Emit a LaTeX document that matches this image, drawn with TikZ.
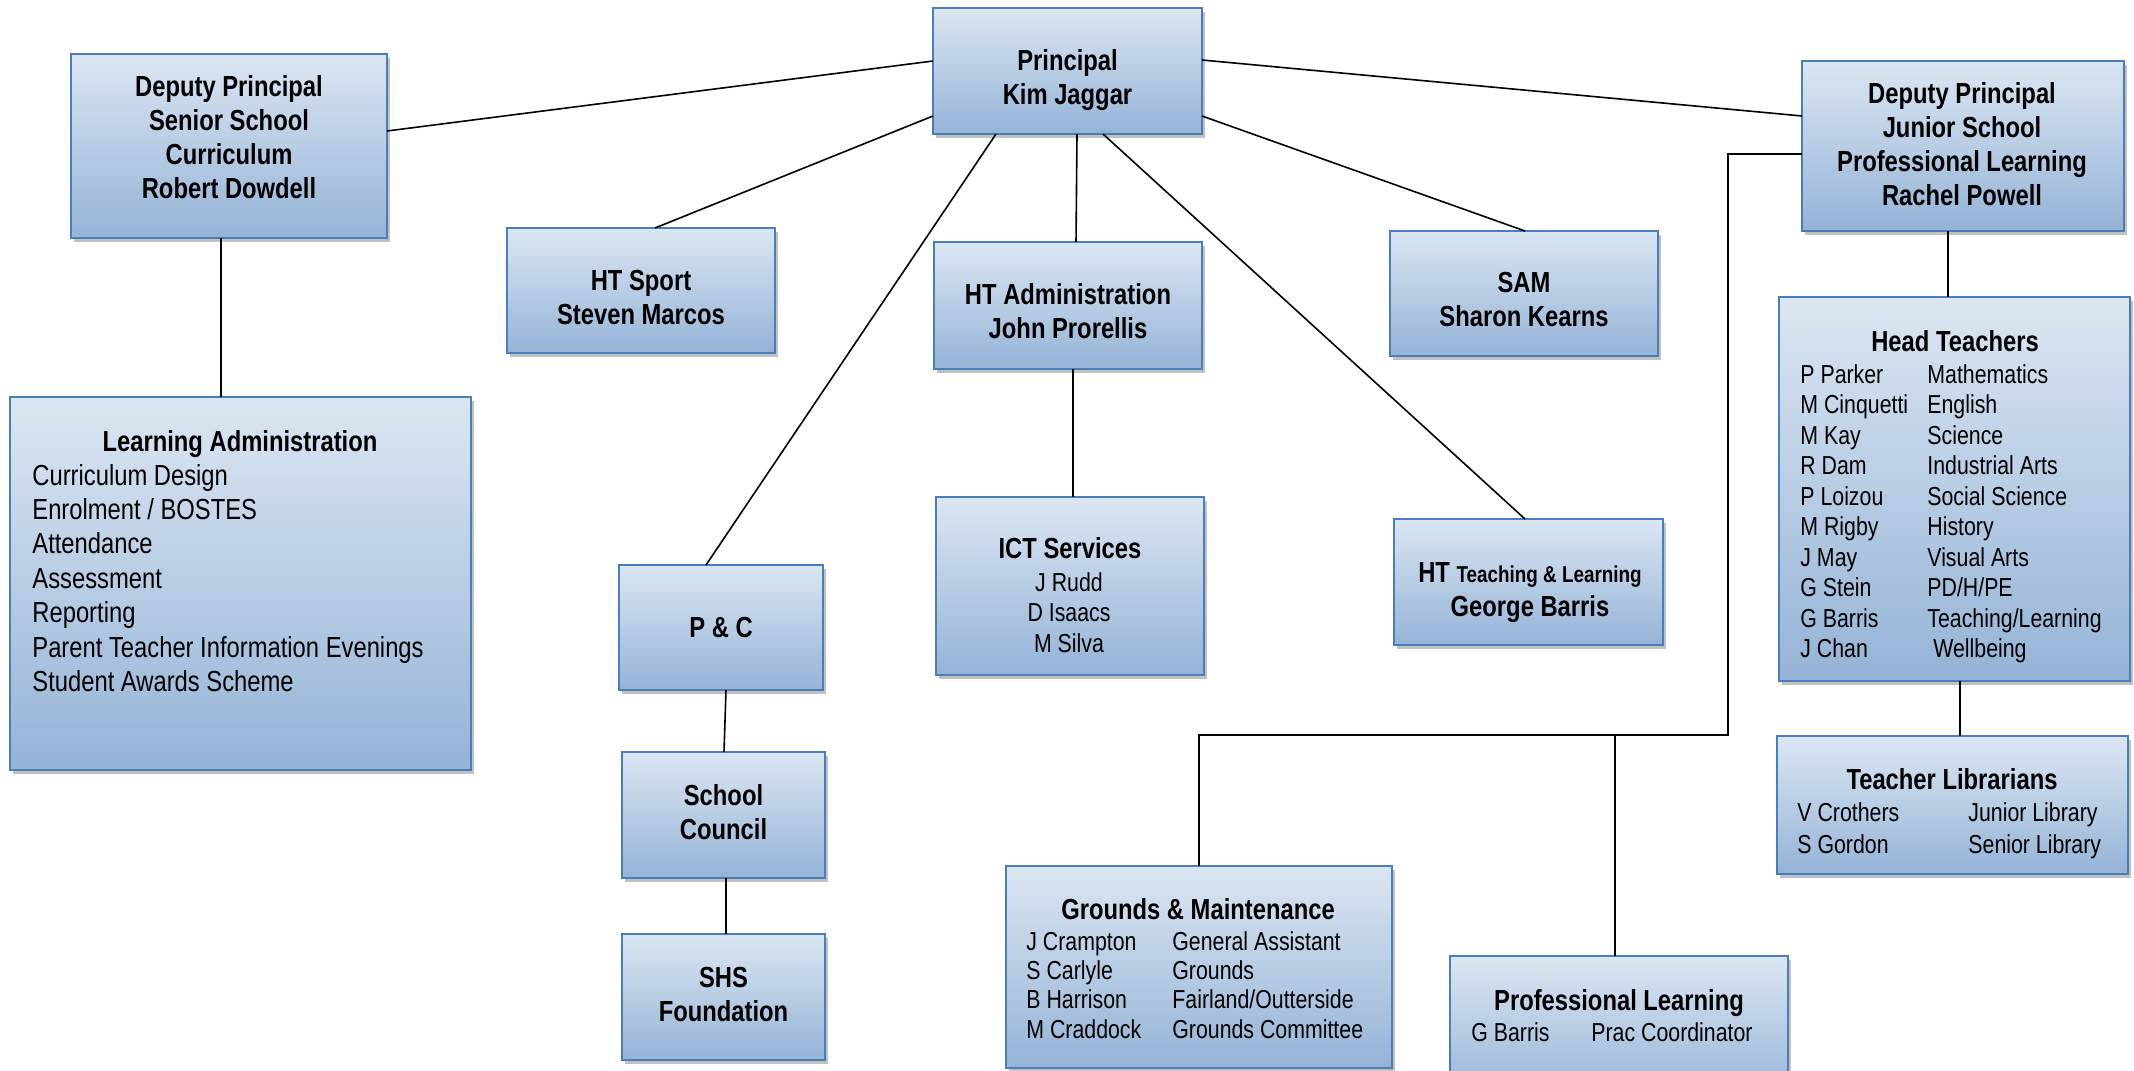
\documentclass[tikz,border=0pt]{standalone}
\usepackage{fontspec}
\setmainfont{Liberation Sans}[FakeStretch=0.82]
\usetikzlibrary{shadows,calc}
\definecolor{boxtop}{RGB}{220,230,242}
\definecolor{boxbot}{RGB}{149,179,215}
\definecolor{boxline}{RGB}{74,126,187}
\newcommand\boxat[5]{\node[obox, minimum width={(#4-#2)*0.5pt}, minimum height={(#5-#3)*0.5pt}] (#1) at ({(#2+#4)/2},{(#3+#5)/2}) {};}
\newcommand\mlines[1]{\begin{tabular}[t]{@{}c@{}}#1\end{tabular}}
\newcommand\twocol[2]{\begin{tabular}[t]{@{}p{#1}@{}l@{}}#2\end{tabular}}
\begin{document}
\begin{tikzpicture}[x=0.5pt,y=-0.5pt,
  obox/.style={draw=boxline, line width=1pt, top color=boxtop, bottom color=boxbot,
    inner sep=0pt, outer sep=0pt,
    drop shadow={shadow xshift=1.5pt, shadow yshift=-2pt, opacity=.4, fill=black!60}},
  link/.style={draw=black, line width=0.8pt},
  ttl/.style={anchor=base, inner sep=0pt, font=\fontsize{14.5}{17}\selectfont\bfseries},
  bod/.style={anchor=base west, inner sep=0pt, font=\fontsize{13}{15.25}\selectfont}]
\path[use as bounding box] (0,0) rectangle (2134,1070);
\clip (0,0) rectangle (2134,1070);
\fill[white] (0,0) rectangle (2134,1070);

% boxes
\boxat{prin}{933}{8}{1202}{134}
\boxat{dps}{71}{54}{387}{238}
\boxat{dpj}{1802}{61}{2124}{231}
\boxat{sport}{507}{228}{775}{353}
\boxat{admin}{934}{242}{1202}{369}
\boxat{sam}{1390}{231}{1658}{356}
\boxat{la}{10}{397}{471}{770}
\boxat{pc}{619}{565}{823}{690}
\boxat{sc}{622}{752}{825}{878}
\boxat{shs}{622}{934}{825}{1060}
\boxat{ict}{936}{497}{1204}{675}
\boxat{htl}{1394}{519}{1663}{645}
\boxat{ht}{1779}{297}{2130}{681}
\boxat{tl}{1777}{736}{2128}{874}
\boxat{gm}{1006}{866}{1392}{1068}
\boxat{pl}{1450}{956}{1788}{1100}

% connectors
\draw[link] ($(prin.north west)+(0,53)$) -- ($(dps.north east)+(0,77)$);
\draw[link] ($(prin.north west)+(0,108)$) -- ($(sport.north west)+(148,0)$);
\draw[link] ($(prin.south west)+(63,0)$) -- ($(pc.north west)+(87,0)$);
\draw[link] ($(prin.south west)+(144,0)$) -- ($(admin.north west)+(142,0)$);
\draw[link] ($(prin.south west)+(170,0)$) -- ($(htl.north west)+(131,0)$);
\draw[link] ($(prin.north east)+(0,108)$) -- ($(sam.north west)+(135,0)$);
\draw[link] ($(prin.north east)+(0,52)$) -- ($(dpj.north west)+(0,55)$);
\coordinate (jbend) at (1728,735);
\draw[link] ($(dpj.north west)+(0,93)$) -| (jbend) -| (gm.north);
\draw[link] ($(pl.north west)+(165,0)$) |- (jbend);
\draw[link] ($(dpj.south west)+(146,0)$) -- ($(ht.north west)+(169,0)$);
\draw[link] ($(ht.south west)+(181,0)$) -- ($(tl.north west)+(183,0)$);
\draw[link] ($(dps.south west)+(150,0)$) -- ($(la.north west)+(211,0)$);
\draw[link] ($(admin.south west)+(139,0)$) -- ($(ict.north west)+(137,0)$);
\draw[link] ($(pc.south west)+(107,0)$) -- ($(sc.north west)+(102,0)$);
\draw[link] ($(sc.south west)+(104,0)$) -- ($(shs.north west)+(104,0)$);

% texts
\node[ttl] (t-prin) at (1067.5,71) {\mlines{Principal\\Kim Jaggar}};
\node[ttl] (t-dps) at (229,97) {\mlines{Deputy Principal\\Senior School\\Curriculum\\Robert Dowdell}};
\node[ttl] (t-dpj) at (1962,104) {\mlines{Deputy Principal\\Junior School\\Professional Learning\\Rachel Powell}};
\node[ttl] (t-sport) at (641,290) {\mlines{HT Sport\\Steven Marcos}};
\node[ttl] (t-admin) at (1068,304) {\mlines{HT Administration\\John Prorellis}};
\node[ttl] (t-sam) at (1524,292) {\mlines{SAM\\Sharon Kearns}};
\node[ttl] (t-la) at (240,451) {Learning Administration};
\node[bod, font=\fontsize{14.5}{17.2}\selectfont] (b-la) at (32,485) {\begin{tabular}[t]{@{}l@{}}Curriculum Design\\Enrolment / BOSTES\\Attendance\\Assessment\\Reporting\\Parent Teacher Information Evenings\\Student Awards Scheme\end{tabular}};
\node[ttl] (t-pc) at (721,637) {P \& C};
\node[ttl] (t-sc) at (723.5,805) {\mlines{School\\Council}};
\node[ttl] (t-shs) at (723.5,987) {\mlines{SHS\\Foundation}};
\node[ttl] (t-ict) at (1070,558) {ICT Services};
\node[bod, anchor=base] (b-ict) at (1069,591) {\mlines{J Rudd\\D Isaacs\\M Silva}};
\node[ttl] (t-htl) at (1530,582) {\mlines{HT {\fontsize{11.5}{14}\selectfont Teaching \& Learning}\\George Barris}};
\node[ttl] (t-ht) at (1955,351) {Head Teachers};
\node[bod] (b-ht) at (1800,383) {\twocol{63.5pt}{P Parker & Mathematics\\M Cinquetti & English\\M Kay & Science\\R Dam & Industrial Arts\\P Loizou & Social Science\\M Rigby & History\\J May & Visual Arts\\G Stein & PD/H/PE\\G Barris & Teaching/Learning\\J Chan & \ Wellbeing}};
\node[ttl] (t-tl) at (1952,789) {Teacher Librarians};
\node[bod, font=\fontsize{13}{15.75}\selectfont] (b-tl) at (1797,821.5) {\twocol{85.5pt}{V Crothers & Junior Library\\S Gordon & Senior Library}};
\node[ttl] (t-gm) at (1198,919) {Grounds \& Maintenance};
\node[bod, font=\fontsize{13}{14.67}\selectfont] (b-gm) at (1026,950) {\twocol{73pt}{J Crampton & General Assistant\\S Carlyle & Grounds\\B Harrison & Fairland/Outterside\\M Craddock & Grounds Committee}};
\node[ttl] (t-pl) at (1619,1010) {Professional Learning};
\node[bod] (b-pl) at (1471,1041) {\twocol{60pt}{G Barris & Prac Coordinator}};
\end{tikzpicture}
\end{document}
